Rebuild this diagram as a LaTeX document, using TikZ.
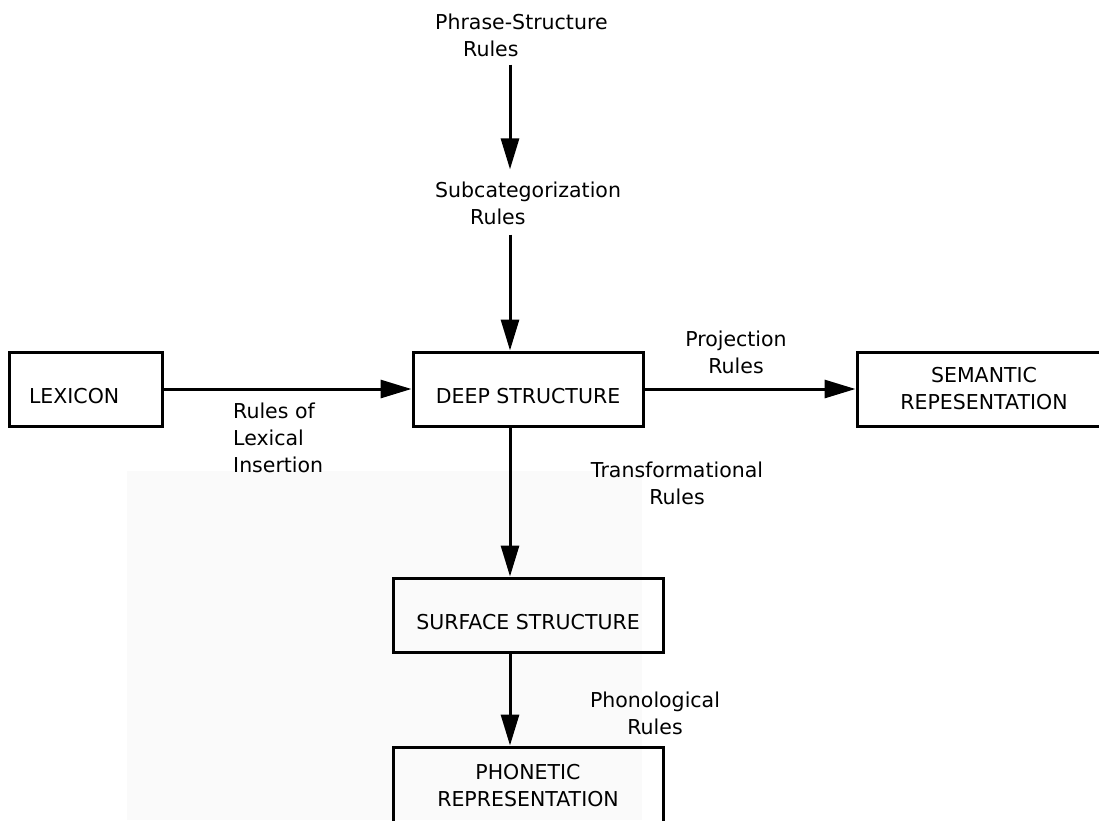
\documentclass[tikz,border=0pt]{standalone}
\usepackage{fontspec}
\setmainfont{DejaVu Sans}
\usetikzlibrary{arrows.meta}
\begin{document}
\begin{tikzpicture}[x=1pt,y=-1pt,
  every node/.style={font=\fontsize{20.5}{27}\selectfont, inner sep=0pt},
  box/.style={draw, line width=3pt, minimum height=74pt},
  single/.style={text height=51pt, text depth=23pt},
  flow/.style={line width=3pt, -{Triangle[length=31pt,width=18pt]}}]
\useasboundingbox (0,0) rectangle (1099,820);
% faint tinted area of the page
\fill[gray!4] (127,471) rectangle (642,820);

% components of the grammar
\node[box, single, minimum width=153pt, text width=113pt, align=left] (lex) at (85.5,389) {LEXICON};
\node[box, single, minimum width=230pt] (deep) at (528,389) {DEEP STRUCTURE};
\node[box, minimum width=254pt, align=center] (sem) at (984,389) {SEMANTIC\\REPESENTATION};
\node[box, single, minimum width=270pt] (surf) at (528,615) {SURFACE STRUCTURE};
\node[box, minimum width=270pt, minimum height=78pt, align=center] (phon) at (528,786) {PHONETIC\\REPRESENTATION};

% rule labels
\node[anchor=west, align=left] (ps) at (435,35) {Phrase-Structure\\\hspace*{28pt}Rules};
\node[anchor=west, align=left] (sub) at (435,203) {Subcategorization\\\hspace*{35pt}Rules};
\node[align=center] (proj) at (736,352) {Projection\\Rules};
\node[anchor=west, align=left] (lexins) at (233,438) {Rules of\\Lexical\\Insertion};
\node[align=center] (trans) at (677,483) {Transformational\\Rules};
\node[align=center] (phrules) at (655,713) {Phonological\\Rules};

% connectors
\coordinate (spine) at (510,0);
\draw[flow, shorten <=8pt, shorten >=12pt] (ps.south -| spine) -- (sub.north -| spine);
\draw[flow, shorten <=10pt] (sub.south -| spine) -- (deep.north -| spine);
\draw[flow] (lex.east) -- (deep.west);
\draw[flow] (deep.east) -- (sem.west);
\draw[flow] (deep.south -| spine) -- (surf.north -| spine);
\draw[flow] (surf.south -| spine) -- (phon.north -| spine);
\end{tikzpicture}
\end{document}
